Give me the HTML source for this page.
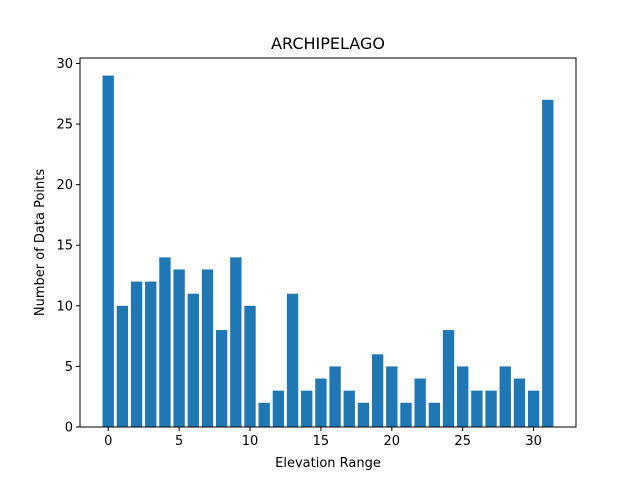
<!DOCTYPE html>
<html><head><meta charset="utf-8"><style>
body{margin:0;background:#fff}
text{font-family:"DejaVu Sans","Liberation Sans",sans-serif;fill:#000}
</style></head><body>
<svg id="c" width="640" height="480" xmlns="http://www.w3.org/2000/svg">
<rect width="640" height="480" fill="#fff"/>
<text x="328" y="49" font-size="16" text-anchor="middle">ARCHIPELAGO</text>
<text x="328" y="467" font-size="13" text-anchor="middle">Elevation Range</text>
<text transform="translate(44,242.5) rotate(-90)" font-size="13" text-anchor="middle">Number of Data Points</text>
<g id="bars"></g><g id="ax"></g>
</svg>
<script>
const categories=[0,1,2,3,4,5,6,7,8,9,10,11,12,13,14,15,16,17,18,19,20,21,22,23,24,25,26,27,28,29,30,31];
const counts=[29,10,12,12,14,13,11,13,8,14,10,2,3,11,3,4,5,3,2,6,5,2,4,2,8,5,3,3,5,4,3,27];
const xTicks=[0,5,10,15,20,25,30];
const yTicks=[0,5,10,15,20,25,30];
const NS="http://www.w3.org/2000/svg";
const L=80,R=576,T=58,B=427;
const xmin=Math.min(...categories)-0.4,xmax=Math.max(...categories)+0.4,pad=(xmax-xmin)*0.05;
const x0=xmin-pad,x1=xmax+pad,ymax=Math.max(...counts)*1.05;
const X=v=>L+(v-x0)/(x1-x0)*(R-L);
const Y=v=>B-v/ymax*(B-T);
function mk(t,a,p){const e=document.createElementNS(NS,t);for(const k in a)e.setAttribute(k,a[k]);p.appendChild(e);return e;}
const bars=document.getElementById('bars'),ax=document.getElementById('ax');
categories.forEach((c,i)=>{
const r=mk('rect',{x:X(c-0.4),y:Y(counts[i]),width:X(c+0.4)-X(c-0.4),height:B-Y(counts[i]),fill:'#1f77b4'},bars);


});
const f=mk('rect',{x:L,y:T,width:R-L,height:B-T,fill:'none',stroke:'#000','stroke-width':1},ax);


xTicks.forEach(v=>{
mk('line',{x1:X(v),x2:X(v),y1:B,y2:B+4,stroke:'#000'},ax);
const t=mk('text',{x:X(v),y:B+18,'font-size':13,'text-anchor':'middle'},ax);t.textContent=v;


});
yTicks.forEach(v=>{
mk('line',{x1:L-4,x2:L,y1:Y(v),y2:Y(v),stroke:'#000'},ax);
const t=mk('text',{x:L-7,y:Y(v)+4.5,'font-size':13,'text-anchor':'end'},ax);t.textContent=v;


});
</script>
</body></html>
